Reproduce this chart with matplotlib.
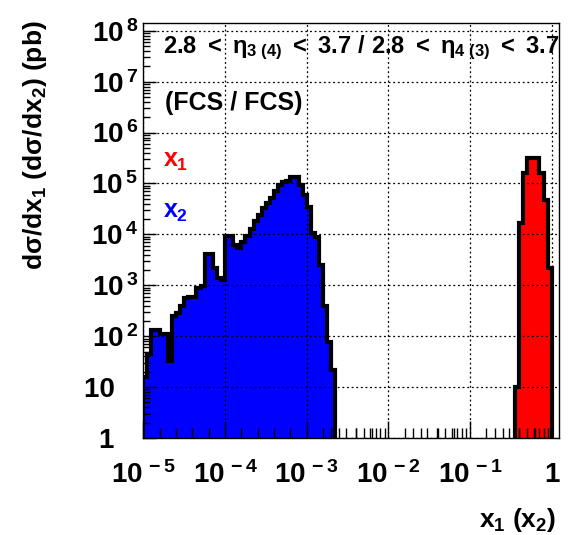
import numpy as np
import matplotlib
matplotlib.use('Agg')
import matplotlib.pyplot as plt
from matplotlib.ticker import FixedLocator, FixedFormatter, NullFormatter

plt.rcParams['font.family'] = ['Liberation Sans', 'DejaVu Sans']
plt.rcParams['font.weight'] = 'bold'
plt.rcParams['mathtext.fontset'] = 'custom'
plt.rcParams['mathtext.rm'] = 'Liberation Sans:bold'
plt.rcParams['mathtext.it'] = 'Liberation Sans:bold'
plt.rcParams['mathtext.bf'] = 'Liberation Sans:bold'

# histogram binning: 20 log bins per decade between 1e-5 and 1
bin_edges = np.logspace(-5, 0, 101)

# x2 (blue), bins 0..46
x2_first = 0
x2_vals = [16, 45, 130, 130, 110, 110, 32, 250, 280, 400,
           560, 600, 600, 890, 950, 4200, 4200, 2200, 1400, 1250,
           9500, 9500, 6300, 5400, 7100, 9500, 13000, 18000, 24000, 33000,
           42000, 52000, 71000, 93000, 105000, 112000, 132000, 132000, 93000, 60000,
           35000, 10500, 8900, 2500, 400, 76, 22]

# x1 (red), bins 91..99
x1_first = 91
x1_vals = [10, 16600, 158000, 316000, 316000, 316000, 158000, 48000, 2200]

nb = '\u00a0'
xtick_pos = [1e-5, 1e-4, 1e-3, 1e-2, 1e-1, 1]
xtick_lab = [r'$10^{\,-5}$', r'$10^{\,-4}$', r'$10^{\,-3}$', r'$10^{\,-2}$', r'$10^{\,-1}$', '1']
ytick_pos = [1, 10, 1e2, 1e3, 1e4, 1e5, 1e6, 1e7, 1e8]
ytick_lab = ['1' + nb * 3, '10' + nb * 3, r'$10^{\,2}$', r'$10^{\,3}$', r'$10^{\,4}$',
             r'$10^{\,5}$', r'$10^{\,6}$', r'$10^{\,7}$', r'$10^{\,8}$']

fig = plt.figure(figsize=(5.74, 5.35), dpi=100)
ax = fig.add_axes([0.2497, 0.1813, 0.7233, 0.7757])
ax.set_xscale('log')
ax.set_yscale('log')
ax.set_xlim(1e-5, 1.21)
ax.set_ylim(1, 1.42e8)

for first, vals, col in [(x2_first, x2_vals, 'blue'), (x1_first, x1_vals, 'red')]:
    e = bin_edges[first:first + len(vals) + 1]
    ax.stairs(vals, e, baseline=1, fill=True, color=col, lw=0, zorder=1)
    ax.stairs(vals, e, baseline=1, fill=False, color='black', lw=3, zorder=2)

ax.xaxis.set_major_locator(FixedLocator(xtick_pos))
ax.xaxis.set_major_formatter(FixedFormatter(xtick_lab))
ax.yaxis.set_major_locator(FixedLocator(ytick_pos))
ax.yaxis.set_major_formatter(FixedFormatter(ytick_lab))

xminor = []
for d in range(-5, 0):
    xminor += [10.0 ** (d + 0.2 * i) for i in range(1, 5)]
    if d >= -3:
        xminor += [m * 10.0 ** d for m in range(2, 10)]
ax.xaxis.set_minor_locator(FixedLocator(xminor))
ax.xaxis.set_minor_formatter(NullFormatter())
ax.yaxis.set_minor_locator(FixedLocator([m * 10.0 ** d for d in range(0, 8) for m in range(2, 10)]))
ax.yaxis.set_minor_formatter(NullFormatter())

ax.tick_params(which='both', direction='in', top=False, right=False, width=1, labelsize=20)
ax.tick_params(axis='x', which='major', length=12, pad=17)
ax.tick_params(axis='x', which='minor', length=7.5)
ax.tick_params(axis='y', which='major', length=9.5, pad=4)
ax.tick_params(axis='y', which='minor', length=5)
ax.grid(True, which='major', color='black', linestyle=(0, (1.5, 2.2)), lw=0.9)
for s in ax.spines.values():
    s.set_linewidth(1.0)

ax.text(0.047, 0.928, r'$2.8\ <\ \eta_{3\ (4)}\ <\ 3.7\ /\ 2.8\ <\ \eta_{4\ (3)}\ <\ 3.7$',
        transform=ax.transAxes, fontsize=17, ha='left', va='baseline')
ax.text(0.052, 0.790, '(FCS / FCS)', transform=ax.transAxes, fontsize=18,
        ha='left', va='baseline')
ax.text(0.047, 0.653, r'$x_1$', transform=ax.transAxes, fontsize=18, color='red',
        ha='left', va='baseline')
ax.text(0.047, 0.530, r'$x_2$', transform=ax.transAxes, fontsize=18, color='blue',
        ha='left', va='baseline')

ax.text(-0.261, 1.007, r'd$\sigma$/dx$_1$ (d$\sigma$/dx$_2$) (pb)', transform=ax.transAxes,
        rotation=90, fontsize=19, ha='center', va='top')
ax.text(0.996, -0.214, r'x$_1$ (x$_2$)', transform=ax.transAxes, fontsize=19,
        ha='right', va='baseline')

fig.savefig('out.png', dpi=100)
